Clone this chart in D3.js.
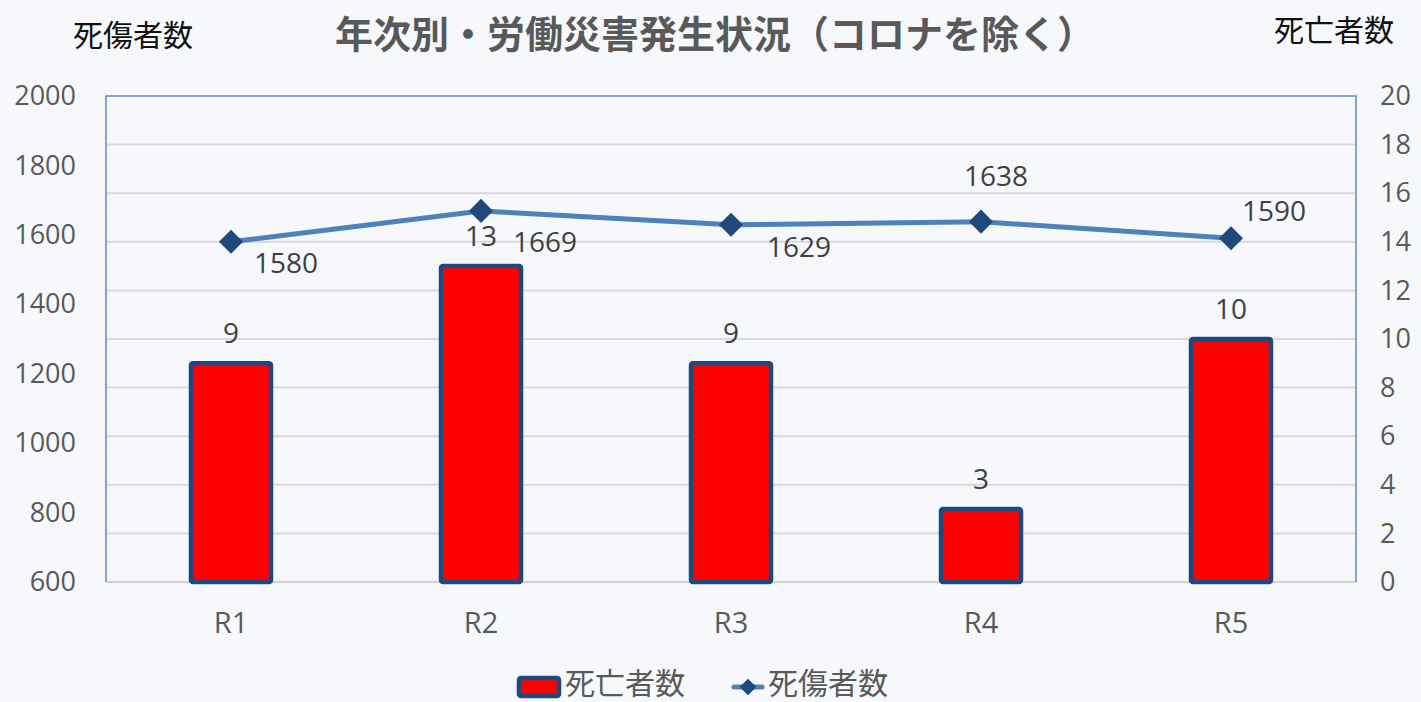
<!DOCTYPE html>
<html>
<head>
<meta charset="utf-8">
<script src="https://cdn.jsdelivr.net/npm/d3@7"></script>
<style>
  html, body { margin: 0; padding: 0; background: #f6f8fc; }
  svg { display: block; }
  text { font-family: "Open Sans", "Noto Sans CJK JP", sans-serif; }
  .jp { font-family: "Noto Sans CJK JP", sans-serif; }
</style>
</head>
<body>
<svg id="chart"></svg>
<script>
'use strict'

const categories = ['R1', 'R2', 'R3', 'R4', 'R5']
const deaths = [9, 13, 9, 3, 10] // 死亡者数 (right axis)
const casualties = [1580, 1669, 1629, 1638, 1590] // 死傷者数 (left axis)
const leftTicks = [600, 800, 1000, 1200, 1400, 1600, 1800, 2000]
const rightTicks = [0, 2, 4, 6, 8, 10, 12, 14, 16, 18, 20]

const width = 1421
const height = 702
const plot = { left: 106, right: 1356, top: 96, bottom: 582 }
// label offsets (dx, dy from the point) for the casualty values
const lineLabelOffset = [[55, 30], [64, 40], [68, 31], [15, -37], [43, -18]]

const svg = d3.select('#chart')
  .attr('width', width)
  .attr('height', height)

const x = d3.scaleBand()
  .domain(categories)
  .range([plot.left, plot.right])

const yLeft = d3.scaleLinear().domain([600, 2000]).range([plot.bottom, plot.top])
const yRight = d3.scaleLinear().domain([0, 20]).range([plot.bottom, plot.top])

// gridlines follow the right axis
svg.append('g')
  .selectAll('line')
  .data(rightTicks.slice(1, -1))
  .join('line')
    .attr('x1', plot.left).attr('x2', plot.right)
    .attr('y1', d => yRight(d)).attr('y2', d => yRight(d))
    .attr('stroke', '#d9d9d9')
    .attr('stroke-width', 2)

// plot frame
svg.append('line')
  .attr('x1', plot.left).attr('x2', plot.right)
  .attr('y1', plot.bottom).attr('y2', plot.bottom)
  .attr('stroke', '#d0d0d0').attr('stroke-width', 2)
svg.append('path')
  .attr('d', `M${plot.left},${plot.bottom}V${plot.top}H${plot.right}V${plot.bottom}`)
  .attr('fill', 'none')
  .attr('stroke', '#5b8ac6')
  .attr('stroke-width', 1.5)

// left axis
const leftAxis = svg.append('g')
  .attr('transform', `translate(${plot.left},0)`)
  .call(d3.axisLeft(yLeft).tickValues(leftTicks).tickFormat(d3.format('d')).tickSize(0).tickPadding(30))
leftAxis.select('.domain').remove()
leftAxis.attr('font-size', null).attr('font-family', null)
leftAxis.selectAll('text')
  .attr('fill', '#595959')
  .style('font-size', '27px')

// right axis
const rightAxis = svg.append('g')
  .attr('transform', `translate(${plot.right},0)`)
  .call(d3.axisRight(yRight).tickValues(rightTicks).tickSize(0).tickPadding(24))
rightAxis.select('.domain').remove()
rightAxis.attr('font-size', null).attr('font-family', null)
rightAxis.selectAll('text')
  .attr('fill', '#595959')
  .style('font-size', '27px')

// category axis
const bottomAxis = svg.append('g')
  .attr('transform', `translate(0,${plot.bottom})`)
  .call(d3.axisBottom(x).tickSize(0).tickPadding(30))
bottomAxis.select('.domain').remove()
bottomAxis.attr('font-size', null).attr('font-family', null)
bottomAxis.selectAll('text')
  .attr('fill', '#595959')
  .style('font-size', '29px')

// bars
const barWidth = x.bandwidth() * 0.32
svg.append('g')
  .selectAll('rect')
  .data(deaths)
  .join('rect')
    .attr('x', (d, i) => x(categories[i]) + (x.bandwidth() - barWidth) / 2)
    .attr('y', d => yRight(d))
    .attr('width', barWidth)
    .attr('height', d => plot.bottom - yRight(d))
    .attr('rx', 2)
    .attr('fill', '#ff0000')
    .attr('stroke', '#1f497d')
    .attr('stroke-width', 4.5)

svg.append('g')
  .selectAll('text')
  .data(deaths)
  .join('text')
    .attr('x', (d, i) => x(categories[i]) + x.bandwidth() / 2)
    .attr('y', d => yRight(d) - 20)
    .attr('text-anchor', 'middle')
    .attr('fill', '#404040')
    .style('font-size', '28px')
    .text(d => d)

// casualty line
const cx = (d, i) => x(categories[i]) + x.bandwidth() / 2
const line = d3.line()
  .x(cx)
  .y(d => yLeft(d))

svg.append('path')
  .datum(casualties)
  .attr('d', line)
  .attr('fill', 'none')
  .attr('stroke', '#4f81bd')
  .attr('stroke-width', 5)
  .attr('stroke-linecap', 'round')

const diamond = d3.symbol().type(d3.symbolSquare).size(290)
svg.append('g')
  .selectAll('path')
  .data(casualties)
  .join('path')
    .attr('d', diamond)
    .attr('transform', (d, i) => `translate(${cx(d, i)},${yLeft(d)}) rotate(45)`)
    .attr('fill', '#1f497d')

svg.append('g')
  .selectAll('text')
  .data(casualties)
  .join('text')
    .attr('x', (d, i) => cx(d, i) + lineLabelOffset[i][0])
    .attr('y', (d, i) => yLeft(d) + lineLabelOffset[i][1] + 1)
    .attr('text-anchor', 'middle')
    .attr('fill', '#404040')
    .style('font-size', '28px')
    .text(d => d)

// titles
svg.append('text')
  .attr('class', 'jp')
  .attr('x', 715).attr('y', 48)
  .attr('text-anchor', 'middle')
  .attr('fill', '#595959')
  .style('font-size', '38px')
  .style('font-weight', 'bold')
  .text('年次別・労働災害発生状況（コロナを除く）')

svg.append('text')
  .attr('class', 'jp')
  .attr('x', 133).attr('y', 46)
  .attr('text-anchor', 'middle')
  .attr('fill', '#111111')
  .style('font-size', '30px')
  .text('死傷者数')

svg.append('text')
  .attr('class', 'jp')
  .attr('x', 1334).attr('y', 41)
  .attr('text-anchor', 'middle')
  .attr('fill', '#111111')
  .style('font-size', '30px')
  .text('死亡者数')

// legend
const legend = svg.append('g')
legend.append('rect')
  .attr('x', 519).attr('y', 678)
  .attr('width', 40).attr('height', 18)
  .attr('rx', 2)
  .attr('fill', '#ff0000')
  .attr('stroke', '#1f497d')
  .attr('stroke-width', 4.5)
legend.append('text')
  .attr('class', 'jp')
  .attr('x', 565).attr('y', 694)
  .attr('fill', '#595959')
  .style('font-size', '30px')
  .text('死亡者数')
legend.append('line')
  .attr('x1', 734).attr('x2', 762)
  .attr('y1', 687).attr('y2', 687)
  .attr('stroke', '#4f81bd')
  .attr('stroke-width', 5)
  .attr('stroke-linecap', 'round')
legend.append('path')
  .attr('d', d3.symbol().type(d3.symbolSquare).size(140))
  .attr('transform', 'translate(748,687) rotate(45)')
  .attr('fill', '#1f497d')
legend.append('text')
  .attr('class', 'jp')
  .attr('x', 768).attr('y', 694)
  .attr('fill', '#595959')
  .style('font-size', '30px')
  .text('死傷者数')
</script>
</body>
</html>
